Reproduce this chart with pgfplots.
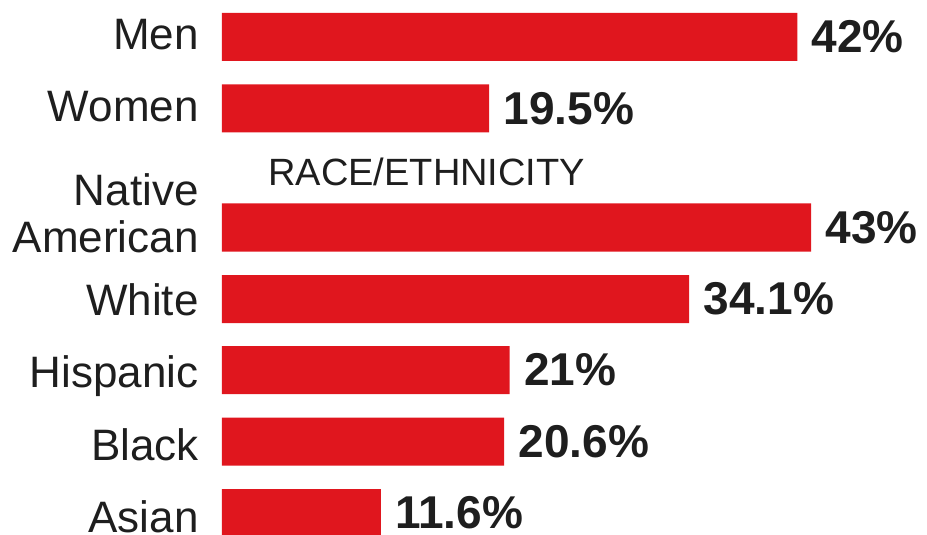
\documentclass[border=0pt]{standalone}
\usepackage{pgfplots}
\pgfplotsset{compat=1.18}
\usepackage{fontspec}
\setmainfont{Liberation Sans}
\definecolor{barred}{RGB}{224,22,30}
\definecolor{txt}{RGB}{30,30,30}
\begin{document}
\begin{tikzpicture}
\begin{axis}[
  scale only axis, width=463.5pt, height=267.5pt,
  xmin=-16.2, xmax=51.46, ymin=0, ymax=535, y dir=reverse,
  axis line style={draw=none}, major tick length=0pt,
  xtick=\empty,
  ytick={50,122,252,315,387,460,532},
  yticklabels={Men,Women,Native\\American,White,Hispanic,Black,Asian},
  yticklabel style={font=\fontsize{22}{23.5}\selectfont, align=right, anchor=base east, inner sep=0pt, xshift=99.5pt, text=txt},
  xbar, bar width=48, bar shift=0pt,
  point meta=explicit symbolic,
  nodes near coords,
  nodes near coords style={font=\bfseries\fontsize{23}{23}\selectfont, anchor=west, inner sep=0pt, xshift=7pt, text=txt},
  clip=false,
]
\addplot[fill=barred, draw=none] coordinates {
  (42,37) [42\%]
  (19.5,108.5) [19.5\%]
  (43,227.5) [43\%]
  (34.1,299) [34.1\%]
  (21,370) [21\%]
  (20.6,441.5) [20.6\%]
  (11.6,513) [11.6\%]
};
\node[anchor=base west, inner sep=0pt, font=\fontsize{19}{19}\selectfont, text=txt] at (axis cs:3.36,185) {RACE/ETHNICITY};
\end{axis}
\pgfresetboundingbox
\path (current axis.south west) rectangle (current axis.north east);
\end{tikzpicture}
\end{document}
